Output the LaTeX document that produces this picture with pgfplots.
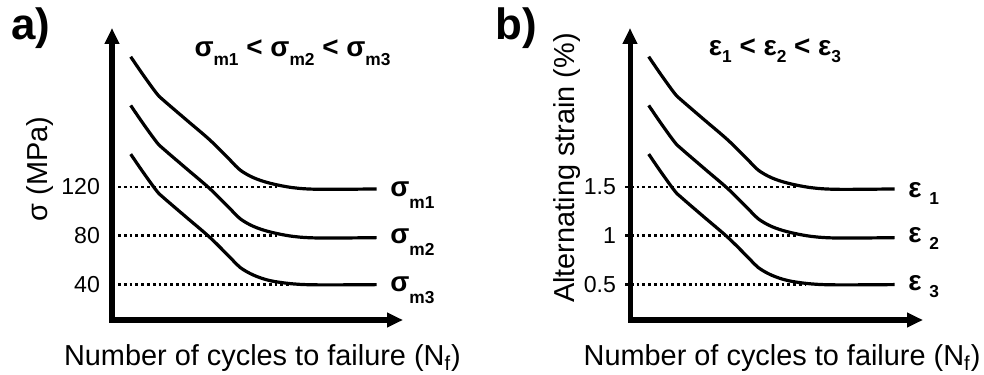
\documentclass[border=0pt]{standalone}
\usepackage{fontspec}
\setmainfont{Liberation Sans}
\usepackage{pgfplots}
\pgfplotsset{compat=1.18}
\usetikzlibrary{arrows.meta}

% lowered, smaller subscript used in the curve labels and titles
\newcommand{\dsub}[2]{\raisebox{-#1}{\fontsize{8.7}{10}\selectfont\bfseries #2}}

\pgfplotsset{
  fatigue/.style={
    scale only axis, anchor=south west, enlargelimits=false, clip=false,
    axis lines=left,
    axis line style={line width=2.5bp, line cap=rect, -{Triangle[length=8bp,width=7bp]}},
    xtick=\empty, major tick length=0pt,
    yticklabel style={font=\fontsize{11.6}{13}\selectfont, xshift=-2.5bp},
    /pgf/number format/assume math mode=true,
    label style={font=\fontsize{14.5}{17}\selectfont},
    every axis plot/.append style={line width=1.6bp, black, no marks},
  },
  curve/.style={smooth, tension=0.55},
  guide/.style={line width=1.4bp, dash pattern=on 1.4bp off 1.5bp, sharp plot},
}
\tikzset{
  endlabel/.style={anchor=base west, inner sep=0pt, font=\fontsize{14}{16}\selectfont\bfseries},
  panellabel/.style={anchor=base west, inner sep=0pt, font=\fontsize{22}{25}\selectfont\bfseries},
  toplabel/.style={anchor=base, inner sep=0pt, font=\fontsize{14}{16}\selectfont\bfseries},
}

\begin{document}
\begin{tikzpicture}
\useasboundingbox (0,0) rectangle (492bp,187.5bp);

\node[panellabel] at (5.5bp,167.5bp) {a)};
\node[panellabel] at (247.5bp,167.5bp) {b)};

% (a) stress-life curves for three mean stresses
\begin{axis}[fatigue,
  at={(56bp,27.5bp)}, width=145.5bp, height=146bp,
  xmin=0, xmax=291, ymin=10.75, ymax=250.6,
  ytick={40,80,120},
  ylabel={σ (MPa)},
  ylabel style={at={(axis description cs:-0.2457,0.5172)}, anchor=center},
  xlabel={Number of cycles to failure (N\textsubscript{f})},
  xlabel style={at={(axis description cs:0.517,-0.130)}, anchor=center},
]
\addplot[guide] coordinates {(6,120) (168,120)};
\addplot[guide] coordinates {(6,80) (168,80)};
\addplot[guide] coordinates {(6,40) (178,40)};

\addplot[curve] coordinates {
  (18.7,227.0) (31.3,211.9) (44.7,196.8) (51.3,191.4) (74.7,174.9) (98,158.5)
  (118,142.2) (128,134.0) (141.3,127.7) (158,123.1) (181.3,119.4) (208,118.1) (264.7,118.4)};
\addplot[curve] coordinates {
  (18.7,187.0) (31.3,171.9) (44.7,156.8) (51.3,151.4) (74.7,134.9) (98,118.5)
  (118,102.2) (128,94.0) (141.3,87.7) (158,83.1) (181.3,79.4) (208,78.1) (264.7,78.4)};
\addplot[curve] coordinates {
  (18.7,147.0) (31.3,131.9) (44.7,116.8) (51.3,111.4) (74.7,94.9) (98,78.5)
  (118,62.2) (128,54.0) (141.3,47.7) (158,43.1) (181.3,40.4) (208,39.6) (264.7,39.8)};

\node[toplabel] at (axis cs:180.5,227.6) {σ\dsub{4.5bp}{m1} < σ\dsub{4.5bp}{m2} < σ\dsub{4.5bp}{m3}};
\node[endlabel] at (axis cs:278,111.8) {σ\dsub{6bp}{m1}};
\node[endlabel] at (axis cs:278,73.4) {σ\dsub{6bp}{m2}};
\node[endlabel] at (axis cs:278,34.5) {σ\dsub{6bp}{m3}};
\end{axis}

% (b) strain-life curves for three strain amplitudes
\begin{axis}[fatigue,
  at={(315bp,27.5bp)}, width=146.5bp, height=146bp,
  xmin=0, xmax=293, ymin=0.1344, ymax=3.1325,
  ytick={0.5,1,1.5},
  yticklabel style={xshift=-1bp},
  ylabel={Alternating strain (\%)},
  ylabel style={at={(axis description cs:-0.215,0.5205)}, anchor=center},
  xlabel={Number of cycles to failure (N\textsubscript{f})},
  xlabel style={at={(axis description cs:0.519,-0.130)}, anchor=center},
]
\addplot[guide] coordinates {(-5,1.5) (166,1.5)};
\addplot[guide] coordinates {(-5,1) (166,1)};
\addplot[guide] coordinates {(-5,0.5) (176,0.5)};

\addplot[curve] coordinates {
  (18.7,2.838) (31.3,2.649) (44.7,2.460) (51.3,2.393) (74.7,2.186) (98,1.981)
  (118,1.778) (128,1.675) (141.3,1.596) (158,1.539) (181.3,1.493) (208,1.476) (264.7,1.480)};
\addplot[curve] coordinates {
  (18.7,2.338) (31.3,2.149) (44.7,1.960) (51.3,1.893) (74.7,1.686) (98,1.481)
  (118,1.278) (128,1.175) (141.3,1.096) (158,1.039) (181.3,0.993) (208,0.976) (264.7,0.980)};
\addplot[curve] coordinates {
  (18.7,1.838) (31.3,1.649) (44.7,1.460) (51.3,1.393) (74.7,1.186) (98,0.981)
  (118,0.778) (128,0.675) (141.3,0.596) (158,0.539) (181.3,0.505) (208,0.495) (264.7,0.498)};

\node[toplabel] at (axis cs:145,2.845) {ε\dsub{3.5bp}{1} < ε\dsub{3.5bp}{2} < ε\dsub{3.5bp}{3}};
\node[endlabel] at (axis cs:278,1.393) {ε \dsub{3.5bp}{1}};
\node[endlabel] at (axis cs:278,0.925) {ε \dsub{3.5bp}{2}};
\node[endlabel] at (axis cs:278,0.4325) {ε \dsub{3.5bp}{3}};
\end{axis}
\end{tikzpicture}
\end{document}
